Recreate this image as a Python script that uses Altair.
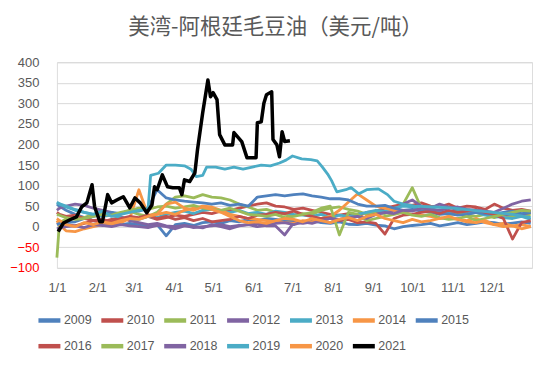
import altair as alt
import pandas as pd

title_text = "美湾-阿根廷毛豆油（美元/吨）"
years = ["2009", "2010", "2011", "2012", "2013", "2014", "2015",
         "2016", "2017", "2018", "2019", "2020", "2021"]
colors = ["#4F81BD", "#C0504D", "#9BBB59", "#8064A2", "#4BACC6", "#F79646",
          "#4F81BD", "#C0504D", "#9BBB59", "#8064A2", "#4BACC6", "#F79646",
          "#000000"]

month_days = [0, 31, 59, 90, 120, 151, 181, 212, 243, 273, 304, 334]
month_labels = ["1/1", "2/1", "3/1", "4/1", "5/1", "6/1", "7/1",
                "8/1", "9/1", "10/1", "11/1", "12/1"]
y_ticks = [-100, -50, 0, 50, 100, 150, 200, 250, 300, 350, 400]

# day-of-year sample points shared by 2009-2018 and 2020
days_weekly = [0, 2, 7, 14, 21, 28, 35, 42, 49, 56,
               63, 70, 77, 84, 91, 98, 105, 112, 119, 126,
               133, 140, 147, 154, 161, 168, 175, 182, 189, 196,
               203, 210, 217, 224, 231, 238, 245, 252, 259, 266,
               273, 280, 287, 294, 301, 308, 315, 322, 329, 336,
               343, 350, 357, 364]

v2009 = [55, 50, 40, 30, 22, 15, 10, 8, 5, 8,
         5, 2, 5, -22, 5, 8, 3, 10, 12, 8,
         15, 12, 18, 15, 20, 18, 15, 14, 12, 15,
         10, 8, 12, 6, 5, 8, 4, 2, -5, 0,
         3, 5, 8, 2, 6, 10, 5, 8, 12, 10,
         6, 9, 12, 8]
v2010 = [10, 8, 5, 2, 8, 15, 12, 18, 22, 15,
         20, 25, 18, 22, 28, 25, 30, 35, 32, 38,
         40, 45, 50, 55, 58, 50, 48, 42, 45, 40,
         35, 30, 28, 32, 25, 35, 38, 45, 50, 55,
         52, 58, 50, 48, 55, 45, 50, 48, 42, 55,
         45, 40, 42, 38]
v2011 = [-75, 10, 18, 25, 22, 30, 35, 28, 32, 38,
         30, 25, 35, 55, 72, 75, 70, 78, 72, 70,
         65, 55, 48, 40, 42, 35, 30, 28, 32, 30,
         40, 45, 48, 42, 38, 30, 35, 32, 40, 55,
         95, 45, 38, 35, 30, 32, 28, 25, 30, 22,
         28, 25, 30, 28]
v2012 = [40, 45, 50, 55, 52, 45, 40, 35, 25, 15,
         10, 5, 8, 2, 0, 3, -2, 0, 2, 5,
         0, 3, 5, 8, 2, 2, -20, 10, 8, 12,
         15, 10, 18, 20, 15, 25, 30, 35, 40, 55,
         65, 50, 45, 55, 48, 40, 35, 38, 30, 35,
         28, 32, 30, 35]
v2013 = [60, 55, 48, 40, 35, 30, 25, 28, 22, 20,
         18, 25, 22, 30, 35, 38, 32, 40, 42, 38,
         35, 40, 32, 35, 30, 38, 35, 30, 28, 25,
         30, 22, 28, 25, 30, 35, 40, 38, 45, 50,
         48, 42, 45, 38, 35, 40, 32, 35, 28, 25,
         22, 20, 25, 18]
v2014 = [15, 5, -10, -12, -5, 0, 5, 2, 10, 20,
         90, 28, 30, 35, 30, 40, 45, 50, 48, 40,
         30, 25, 20, 18, 15, 12, 10, 8, 15, 12,
         20, 25, 40, 60, 80, 65, 50, 45, 40, 35,
         30, 28, 25, 20, 22, 18, 15, 20, 10, 5,
         8, 2, 5, 0]
v2015 = [5, 8, 10, 12, 20, 25, 30, 35, 32, 40,
         38, 45, 90, 70, 65, 62, 60, 58, 55, 58,
         52, 55, 50, 72, 75, 78, 75, 78, 80, 75,
         72, 68, 68, 65, 55, 50, 50, 52, 45, 40,
         42, 38, 35, 30, 32, 28, 30, 35, 32, 30,
         35, 38, 32, 35]
v2016 = [35, 30, 25, 28, 20, 15, 18, 12, 20, 25,
         22, 28, 20, 25, 18, 22, 15, 20, 12, 15,
         18, 25, 20, 28, 30, 35, 32, 38, 30, 25,
         20, 22, 15, 18, 10, 12, 8, -18, 20, 28,
         30, 35, 38, 32, 40, 35, 38, 42, 35, 30,
         20, -30, 10, 15]
v2017 = [30, 28, 22, 18, 20, 25, 30, 28, 35, 40,
         45, 42, 48, 50, 45, 48, 52, 45, 42, 40,
         45, 38, 30, 28, 25, 30, 22, 25, 30, 35,
         45, 50, -20, 35, 30, 15, 20, 25, 30, 35,
         28, 25, 30, 22, 18, 20, 25, 15, 20, 25,
         30, 35, 40, 38]
v2018 = [-5, -3, 0, 2, -2, 5, 3, 0, 5, 2,
         0, -2, 3, 0, -5, 2, 0, -3, 5, 0,
         -5, 2, 5, 0, 3, 8, 10, 5, 12, 8,
         15, 20, 18, 22, 25, 20, 30, 35, 32, 40,
         38, 45, 42, 40, 45, 48, 42, 40, 38, 35,
         45, 55, 62, 65]
v2020 = [20, 15, 5, 0, 10, 5, 12, 8, 15, 20,
         18, 25, 30, 55, 60, 45, 40, 48, 42, 35,
         25, 15, 10, 12, 8, 15, 20, 18, 12, 20,
         15, 10, 18, 22, 15, 25, 30, 20, 15, 10,
         18, 12, 15, 20, 25, 18, 12, 10, 15, 5,
         0, 2, -5, 0]

days_2019 = [0, 7, 14, 21, 28, 35, 42, 49, 56, 63,
             70, 72, 78, 84, 91, 98, 103, 107, 112, 115,
             122, 129, 136, 143, 150, 157, 164, 171, 176, 181,
             188, 195, 200, 204, 208, 211, 215, 222, 226, 232,
             238, 247, 254, 259, 266, 275, 290, 305, 320, 335,
             350, 364]
v2019 = [58, 50, 42, 35, 30, 38, 25, 30, 35, 40,
         42, 125, 130, 150, 150, 148, 140, 122, 125, 145,
         145, 140, 145, 140, 145, 150, 148, 155, 162, 172,
         165, 163, 160, 145, 128, 112, 85, 90, 95, 80,
         90, 92, 78, 62, 55, 50, 48, 45, 40, 35,
         30, 22]

days_2021 = [1, 5, 10, 15, 19, 23, 27, 29, 33, 35,
             39, 42, 46, 51, 56, 60, 64, 69, 73, 75,
             77, 81, 85, 89, 94, 96, 98, 102, 106, 108,
             112, 116, 118, 120, 123, 125, 129, 135, 136, 142,
             146, 153, 154, 157, 159, 161, 165, 166, 169, 171,
             173, 175, 179]
v2021 = [-12, 9, 17, 24, 48, 58, 102, 48, 12, 12,
         78, 58, 65, 73, 46, 70, 58, 34, 53, 97,
         90, 126, 97, 95, 95, 78, 114, 110, 131, 187,
         277, 357, 316, 326, 309, 224, 199, 199, 229, 207,
         168, 168, 253, 255, 300, 321, 328, 212, 199, 170,
         231, 207, 209]

series = {
    "2009": (days_weekly, v2009), "2010": (days_weekly, v2010),
    "2011": (days_weekly, v2011), "2012": (days_weekly, v2012),
    "2013": (days_weekly, v2013), "2014": (days_weekly, v2014),
    "2015": (days_weekly, v2015), "2016": (days_weekly, v2016),
    "2017": (days_weekly, v2017), "2018": (days_weekly, v2018),
    "2019": (days_2019, v2019), "2020": (days_weekly, v2020),
    "2021": (days_2021, v2021),
}

rows = []
for order, yr in enumerate(years):
    ds, vs = series[yr]
    for d, v in zip(ds, vs):
        rows.append({"year": yr, "order": order, "day": d, "value": v})
df = pd.DataFrame(rows)

label_expr = ("[" + ",".join("'%s'" % l for l in month_labels) + "][indexof(["
              + ",".join(str(d) for d in month_days) + "], datum.value)]")

FONT = "Liberation Sans"
GREY = "#595959"

legend = alt.Legend(orient="none", legendX=-21, legendY=245,
                    direction="horizontal", columns=7, gridAlign="each",
                    title=None, symbolType="stroke",
                    symbolSize=484, symbolStrokeWidth=4.5,
                    labelFontSize=12.5, labelFont=FONT,
                    labelColor=GREY, labelOffset=1,
                    columnPadding=0, rowPadding=3)

x_enc = alt.X("day:Q",
              scale=alt.Scale(domain=[0, 365], nice=False, zero=False),
              axis=alt.Axis(values=month_days, labelExpr=label_expr, title=None,
                            grid=False, domain=False, ticks=False, labelFlush=False,
                            labelPadding=14, labelFontSize=13, labelColor=GREY,
                            labelFont=FONT))
y_enc = alt.Y("value:Q",
              scale=alt.Scale(domain=[-100, 400], nice=False, zero=False),
              axis=alt.Axis(values=y_ticks, title=None, domain=False, ticks=False,
                            gridColor="#D9D9D9", gridWidth=1,
                            labelPadding=18, labelFontSize=13, labelFont=FONT,
                            labelColor={"condition": {"test": "datum.value < 0",
                                                      "value": "#FF0000"},
                                        "value": GREY}))
color_enc = alt.Color("year:N", scale=alt.Scale(domain=years, range=colors),
                      legend=legend)

base = alt.Chart(df)
others = base.transform_filter("datum.year != '2021'").mark_line(
    strokeWidth=2.8, strokeJoin="round"
).encode(x=x_enc, y=y_enc, color=color_enc, order=alt.Order("day:Q"))
black = base.transform_filter("datum.year == '2021'").mark_line(
    strokeWidth=3.5, strokeJoin="round"
).encode(x=x_enc, y=y_enc, color=color_enc, order=alt.Order("day:Q"))

chart = alt.layer(others, black).properties(
    width=476, height=206,
    autosize=alt.AutoSizeParams(type="none"),
    padding={"left": 49, "top": 54, "right": 10, "bottom": 90},
    title=alt.TitleParams(title_text, fontSize=21.5, font="Noto Sans CJK SC",
                          fontWeight="normal", color=GREY, anchor="middle",
                          dx=-19, offset=18),
).configure_view(stroke=None).configure(background="white")

chart.save("out.html", embed_options={"renderer": "svg", "actions": False})
